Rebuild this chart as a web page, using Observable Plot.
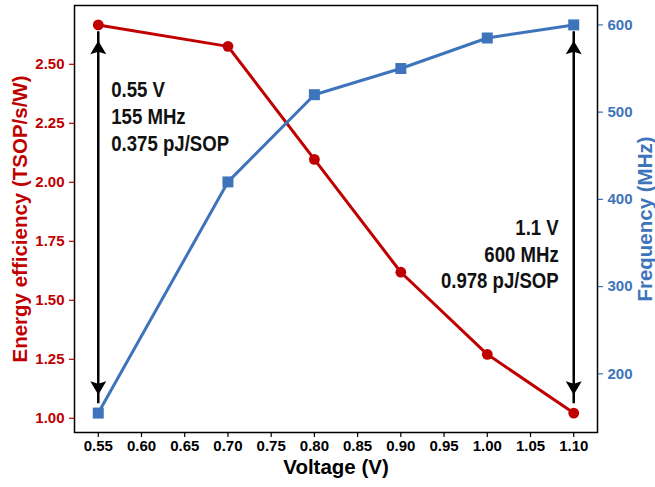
<!DOCTYPE html>
<html>
<head>
<meta charset="utf-8">
<script src="https://cdn.jsdelivr.net/npm/d3@7"></script>
<script src="https://cdn.jsdelivr.net/npm/@observablehq/plot@0.6"></script>
<style>
  html, body { margin: 0; padding: 0; background: white; }
</style>
</head>
<body>
<div id="chart"></div>
<script>
// ---- data ----
const voltage = [0.55, 0.70, 0.80, 0.90, 1.00, 1.10];
const efficiency = [2.667, 2.576, 2.097, 1.619, 1.271, 1.022];
const frequency = [155, 420, 520, 550, 585, 600];

const xTicks = [0.55, 0.60, 0.65, 0.70, 0.75, 0.80, 0.85, 0.90, 0.95, 1.00, 1.05, 1.10];
const effTicks = [1.00, 1.25, 1.50, 1.75, 2.00, 2.25, 2.50];
const freqTicks = [200, 300, 400, 500, 600];

const xDomain = [0.5225, 1.1275];
const effDomain = [0.9398, 2.7492];
const freqDomain = [132.75, 622.25];

const arrowX = [0.55, 1.10];
const arrowTop = [2.60, 2.60];
const arrowBottom = [1.10, 1.10];

const annX = [0.55, 1.10];
const annY = [2.283, 1.70];
const annText = ["0.55 V\n155 MHz\n0.375 pJ/SOP", "1.1 V\n600 MHz\n0.978 pJ/SOP"];
const annAnchor = ["start", "end"];

const labelLeft = "Energy efficiency (TSOP/s/W)";
const labelRight = "Frequency (MHz)";
const labelX = "Voltage (V)";

// ---- styling ----
const RED = "#c00000";
const BLUE = "#3d74bb";
const FONT = "'Liberation Sans', Arial, Helvetica, sans-serif";
const ANN_STRETCH = 1.2; // annotation glyphs are condensed (taller than wide)

// map frequency onto the energy-efficiency scale (twin axis)
const k = (effDomain[1] - effDomain[0]) / (freqDomain[1] - freqDomain[0]);
const toE = f => effDomain[0] + (f - freqDomain[0]) * k;
const fromE = e => freqDomain[0] + (e - effDomain[0]) / k;

const redRows = voltage.map((v, i) => ({v, e: efficiency[i]}));
const blueRows = voltage.map((v, i) => ({v, f: frequency[i]}));
const arrowRows = arrowX.map((x, i) => ({x, top: arrowTop[i], bottom: arrowBottom[i]}));
const annRows = annX.map((x, i) => ({x, y: annY[i], text: annText[i], anchor: annAnchor[i]}));

const headUp = {draw(ctx) { ctx.moveTo(0, 0); ctx.lineTo(8, 13.5); ctx.lineTo(0, 11); ctx.lineTo(-8, 13.5); ctx.closePath(); }};
const headDown = {draw(ctx) { ctx.moveTo(0, 0); ctx.lineTo(8, -13.5); ctx.lineTo(0, -11); ctx.lineTo(-8, -13.5); ctx.closePath(); }};

const chart = Plot.plot({
  width: 655,
  height: 487,
  marginTop: 5,
  marginBottom: 55,
  marginLeft: 74,
  marginRight: 58,
  style: {fontFamily: FONT, fontWeight: "bold", background: "white", overflow: "visible"},
  x: {domain: xDomain},
  y: {domain: effDomain},
  marks: [
    Plot.axisX({ticks: xTicks, tickFormat: d3.format(".2f"), tickSize: 5, tickPadding: 3, fontSize: 15, stroke: "black", fill: "black", label: null, strokeWidth: 1.2}),
    Plot.axisY({anchor: "left", ticks: effTicks, tickFormat: d3.format(".2f"), tickSize: 5, tickPadding: 5, fontSize: 15, color: RED, label: null, strokeWidth: 1.2}),
    Plot.axisY({anchor: "right", ticks: freqTicks.map(toE), tickFormat: e => String(Math.round(fromE(e))), tickSize: 5, tickPadding: 5, fontSize: 15, color: BLUE, label: null, strokeWidth: 1.2}),
    Plot.text([labelLeft], {frameAnchor: "left", dx: -54, rotate: -90, textAnchor: "middle", lineAnchor: "middle", fill: RED, fontSize: 20.5, fontWeight: "bold"}),
    Plot.text([labelRight], {frameAnchor: "right", dx: 48, rotate: -90, textAnchor: "middle", lineAnchor: "middle", fill: BLUE, fontSize: 20.5, fontWeight: "bold"}),
    Plot.text([labelX], {frameAnchor: "bottom", dy: 35, textAnchor: "middle", lineAnchor: "middle", fill: "black", fontSize: 20.5, fontWeight: "bold"}),
    // red series
    Plot.line(redRows, {x: "v", y: "e", stroke: RED, strokeWidth: 3}),
    Plot.dot(redRows, {x: "v", y: "e", r: 5.4, fill: RED, stroke: "none", symbol: "circle"}),
    // blue series
    Plot.line(blueRows, {x: "v", y: d => toE(d.f), stroke: BLUE, strokeWidth: 3}),
    Plot.dot(blueRows, {x: "v", y: d => toE(d.f), r: 6.2, fill: BLUE, stroke: "none", symbol: "square"}),
    // double arrows
    Plot.ruleX(arrowRows, {x: "x", y1: "bottom", y2: "top", insetTop: 9, insetBottom: 9, stroke: "black", strokeWidth: 2.5}),
    Plot.dot(arrowRows, {x: "x", y: "top", symbol: headUp, r: 5, fill: "black", stroke: "none"}),
    Plot.dot(arrowRows, {x: "x", y: "bottom", symbol: headDown, r: 5, fill: "black", stroke: "none"}),
    // annotations
    Plot.text(annRows.filter(d => d.anchor === "start"), {x: "x", y: "y", text: "text", textAnchor: "start", dx: 13, fontSize: 18.6, lineHeight: 1.21, fill: "#111", fontWeight: "bold", className: "ann"}),
    Plot.text(annRows.filter(d => d.anchor === "end"), {x: "x", y: "y", text: "text", textAnchor: "end", dx: -15, fontSize: 18.6, lineHeight: 1.19, fill: "#111", fontWeight: "bold", className: "ann"}),
    Plot.frame({stroke: "black", strokeWidth: 1.5})
  ]
});
// vertically stretch the annotation glyphs (condensed look of the original)
chart.querySelectorAll("g.ann text").forEach(t => {
  const tr = t.getAttribute("transform") || "";
  t.setAttribute("transform", tr + ` scale(1,${ANN_STRETCH})`);
});
document.getElementById("chart").appendChild(chart);
</script>
</body>
</html>
